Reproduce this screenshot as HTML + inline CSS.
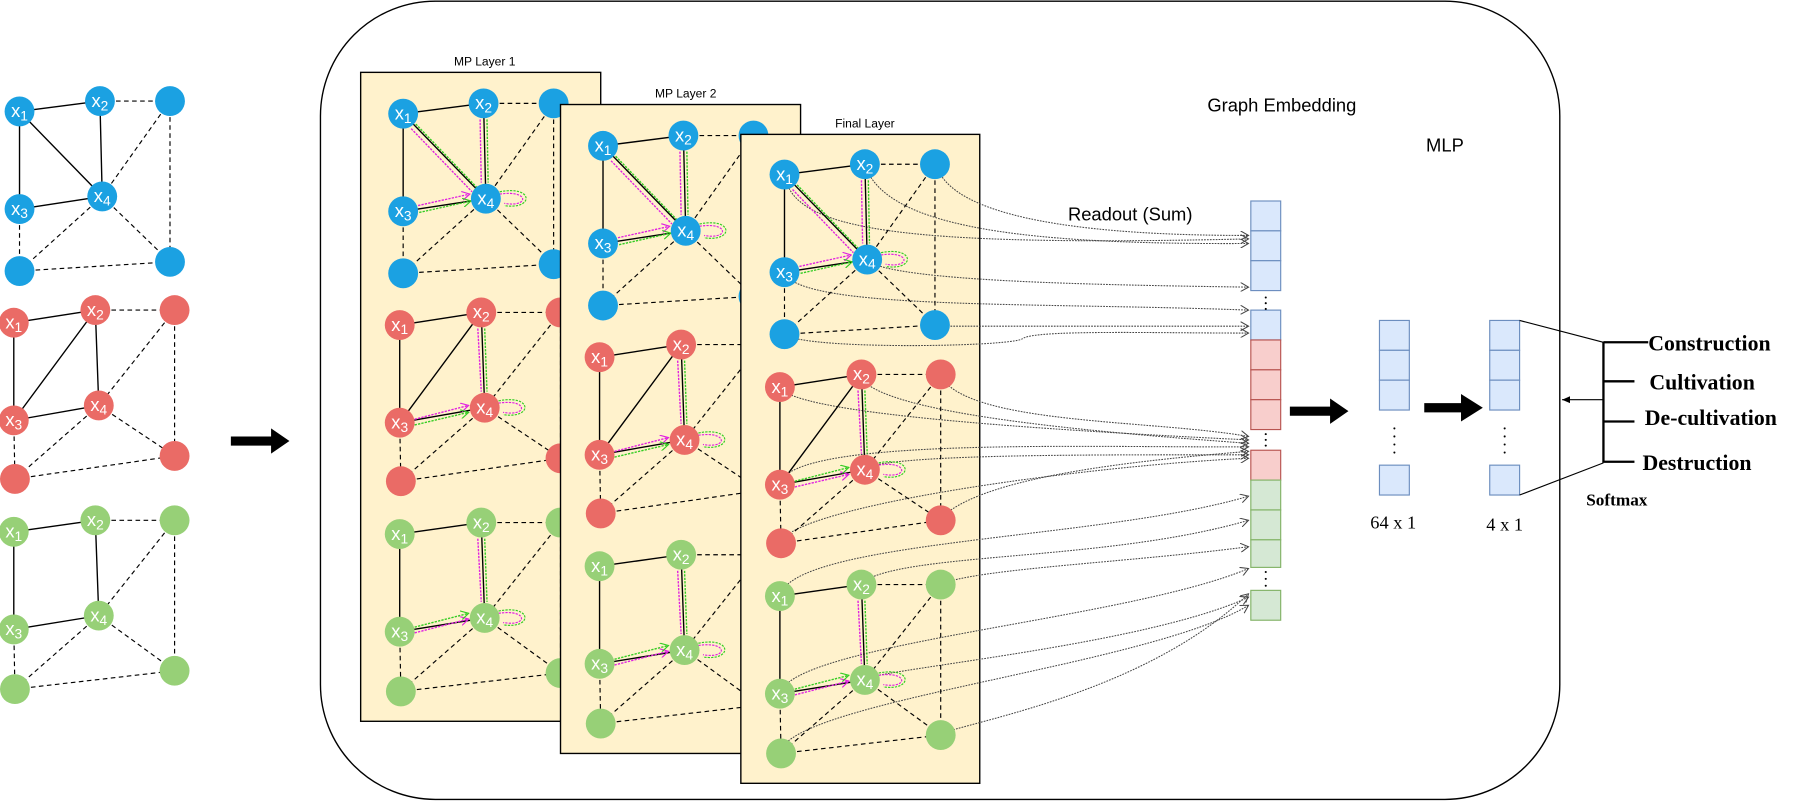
<!DOCTYPE html>
<html><head><meta charset="utf-8"><style>
html,body{margin:0;padding:0;background:#fff;}
svg{display:block;}
.nl{font-family:"Liberation Sans",sans-serif;font-size:16px;fill:#fff;text-anchor:middle;}
.s{stroke:#000;stroke-width:1.2;fill:none;}
.d{stroke:#000;stroke-width:1;stroke-dasharray:4 3;fill:none;}
.pk{stroke:#e020e0;stroke-width:1.2;stroke-dasharray:2 1;fill:none;marker-end:url(#mp);}
.gn{stroke:#33cc22;stroke-width:1.2;stroke-dasharray:2 1;fill:none;marker-end:url(#mg);}
.c{stroke:#444;stroke-width:0.9;stroke-dasharray:1.5 1;fill:none;marker-end:url(#ma);}
.lbl{font-family:"Liberation Sans",sans-serif;fill:#000;}
.sf{font-family:"Liberation Serif",serif;fill:#000;}
</style></head><body>
<svg width="1801" height="801" viewBox="0 0 1568 697.4" preserveAspectRatio="none" xmlns="http://www.w3.org/2000/svg">
<defs>
<marker id="ma" markerWidth="8" markerHeight="8" refX="7" refY="4" orient="auto" markerUnits="userSpaceOnUse"><path d="M0,0 L7,4 L0,8" fill="none" stroke="#444" stroke-width="0.9"/></marker>
<marker id="mp" markerWidth="8" markerHeight="8" refX="7" refY="4" orient="auto" markerUnits="userSpaceOnUse"><path d="M0,0 L7,4 L0,8" fill="none" stroke="#e020e0" stroke-width="1"/></marker>
<marker id="mg" markerWidth="8" markerHeight="8" refX="7" refY="4" orient="auto" markerUnits="userSpaceOnUse"><path d="M0,0 L7,4 L0,8" fill="none" stroke="#33cc22" stroke-width="1"/></marker>
<marker id="mk" markerWidth="8" markerHeight="8" refX="7" refY="4" orient="auto" markerUnits="userSpaceOnUse"><path d="M0,1 L7,4 L0,7 Z" fill="#000"/></marker>
</defs>

<!-- big rounded container -->
<rect x="279" y="1" width="1079" height="695" rx="100" ry="100" fill="#fff" stroke="#000" stroke-width="1.2"/>

<!-- left arrow -->
<polygon points="201,380 236,380 236,373 252,384 236,395 236,388 201,388" fill="#000"/>

<!-- ===== LEFT BLUE ===== -->
<g transform="translate(17,97)">
<path class="s" d="M0,0L70,-9M0,0L0,85M0,0L72,74M70,-9L72,74M0,85L72,74"/>
<path class="d" d="M70,-9L131,-9M131,-9L72,74M131,-9L131,131M0,85L0,139M72,74L0,139M72,74L131,131M0,139L131,131"/>
<g fill="#1ba1e2"><circle cx="0" cy="0" r="13"/><circle cx="70" cy="-9" r="13"/><circle cx="131" cy="-9" r="13"/><circle cx="0" cy="85" r="13"/><circle cx="72" cy="74" r="13"/><circle cx="0" cy="139" r="13"/><circle cx="131" cy="131" r="13"/></g>
<text class="nl" x="0" y="5">x<tspan font-size="12" dy="3">1</tspan></text><text class="nl" x="70" y="-4">x<tspan font-size="12" dy="3">2</tspan></text><text class="nl" x="0" y="90">x<tspan font-size="12" dy="3">3</tspan></text><text class="nl" x="72" y="79">x<tspan font-size="12" dy="3">4</tspan></text>
</g>
<!-- LEFT RED -->
<g transform="translate(12,281)">
<path class="s" d="M0,0L71,-11M0,0L0,85M0,85L71,-11M71,-11L74,72M0,85L74,72"/>
<path class="d" d="M71,-11L140,-11M140,-11L74,72M140,-11L140,116M0,85L1,136M74,72L1,136M74,72L140,116M1,136L140,116"/>
<g fill="#ea6b66"><circle cx="0" cy="0" r="13"/><circle cx="71" cy="-11" r="13"/><circle cx="140" cy="-11" r="13"/><circle cx="0" cy="85" r="13"/><circle cx="74" cy="72" r="13"/><circle cx="1" cy="136" r="13"/><circle cx="140" cy="116" r="13"/></g>
<text class="nl" x="0" y="5">x<tspan font-size="12" dy="3">1</tspan></text><text class="nl" x="71" y="-6">x<tspan font-size="12" dy="3">2</tspan></text><text class="nl" x="0" y="90">x<tspan font-size="12" dy="3">3</tspan></text><text class="nl" x="74" y="77">x<tspan font-size="12" dy="3">4</tspan></text>
</g>
<!-- LEFT GREEN -->
<g transform="translate(12,463)">
<path class="s" d="M0,0L71,-10M0,0L0,85M71,-10L74,73M0,85L74,73"/>
<path class="d" d="M71,-10L140,-10M140,-10L74,73M140,-10L140,121M0,85L1,137M74,73L1,137M74,73L140,121M1,137L140,121"/>
<g fill="#97d077"><circle cx="0" cy="0" r="13"/><circle cx="71" cy="-10" r="13"/><circle cx="140" cy="-10" r="13"/><circle cx="0" cy="85" r="13"/><circle cx="74" cy="73" r="13"/><circle cx="1" cy="137" r="13"/><circle cx="140" cy="121" r="13"/></g>
<text class="nl" x="0" y="5">x<tspan font-size="12" dy="3">1</tspan></text><text class="nl" x="71" y="-5">x<tspan font-size="12" dy="3">2</tspan></text><text class="nl" x="0" y="90">x<tspan font-size="12" dy="3">3</tspan></text><text class="nl" x="74" y="78">x<tspan font-size="12" dy="3">4</tspan></text>
</g>

<!-- ================= PANEL 1 ================= -->
<text class="lbl" x="422" y="57" font-size="10.5" text-anchor="middle">MP Layer 1</text>
<rect x="314" y="63" width="209" height="565" fill="#fff2cc" stroke="#000" stroke-width="1.2"/>
<g transform="translate(351,99)">
<path class="s" d="M0,0L70,-9M0,0L0,85M0,0L72,74M70,-9L72,74M0,85L72,74"/>
<path class="d" d="M70,-9L131,-9M131,-9L72,74M131,-9L131,131M0,85L0,139M72,74L0,139M72,74L131,131M0,139L131,131"/>
<path class="pk" d="M7,13L60,68M67,5L68,60M13,80L58,70"/><path class="gn" d="M11,9L64,64M73,5L74,60M14,86L59,76"/>
<path d="M84,70 C110,66 110,82 88,78" stroke="#e020e0" stroke-dasharray="2 1" fill="none"/><path d="M84,68 C114,62 114,84 88,80" stroke="#33cc22" stroke-dasharray="2 1" fill="none"/>
<g fill="#1ba1e2"><circle cx="0" cy="0" r="13"/><circle cx="70" cy="-9" r="13"/><circle cx="131" cy="-9" r="13"/><circle cx="0" cy="85" r="13"/><circle cx="72" cy="74" r="13"/><circle cx="0" cy="139" r="13"/><circle cx="131" cy="131" r="13"/></g>
<text class="nl" x="0" y="5">x<tspan font-size="12" dy="3">1</tspan></text><text class="nl" x="70" y="-4">x<tspan font-size="12" dy="3">2</tspan></text><text class="nl" x="0" y="90">x<tspan font-size="12" dy="3">3</tspan></text><text class="nl" x="72" y="79">x<tspan font-size="12" dy="3">4</tspan></text>
</g>
<g transform="translate(348,283)">
<path class="s" d="M0,0L71,-11M0,0L0,85M0,85L71,-11M71,-11L74,72M0,85L74,72"/>
<path class="d" d="M71,-11L140,-11M140,-11L74,72M140,-11L140,116M0,85L1,136M74,72L1,136M74,72L140,116M1,136L140,116"/>
<path class="pk" d="M68,3L71,58M13,82L60,70"/><path class="gn" d="M74,3L76,58M13,87L60,76"/>
<path d="M86,68 C112,64 112,80 90,76" stroke="#e020e0" stroke-dasharray="2 1" fill="none"/><path d="M86,66 C116,60 116,82 90,78" stroke="#33cc22" stroke-dasharray="2 1" fill="none"/>
<g fill="#ea6b66"><circle cx="0" cy="0" r="13"/><circle cx="71" cy="-11" r="13"/><circle cx="140" cy="-11" r="13"/><circle cx="0" cy="85" r="13"/><circle cx="74" cy="72" r="13"/><circle cx="1" cy="136" r="13"/><circle cx="140" cy="116" r="13"/></g>
<text class="nl" x="0" y="5">x<tspan font-size="12" dy="3">1</tspan></text><text class="nl" x="71" y="-6">x<tspan font-size="12" dy="3">2</tspan></text><text class="nl" x="0" y="90">x<tspan font-size="12" dy="3">3</tspan></text><text class="nl" x="74" y="77">x<tspan font-size="12" dy="3">4</tspan></text>
</g>
<g transform="translate(348,465)">
<path class="s" d="M0,0L71,-10M0,0L0,85M71,-10L74,73M0,85L74,73"/>
<path class="d" d="M71,-10L140,-10M140,-10L74,73M140,-10L140,121M0,85L1,137M74,73L1,137M74,73L140,121M1,137L140,121"/>
<path class="pk" d="M68,4L71,59M13,86L60,74"/><path class="gn" d="M74,4L76,59M13,81L60,69"/>
<path d="M86,69 C112,65 112,81 90,77" stroke="#e020e0" stroke-dasharray="2 1" fill="none"/><path d="M86,67 C116,61 116,83 90,79" stroke="#33cc22" stroke-dasharray="2 1" fill="none"/>
<g fill="#97d077"><circle cx="0" cy="0" r="13"/><circle cx="71" cy="-10" r="13"/><circle cx="140" cy="-10" r="13"/><circle cx="0" cy="85" r="13"/><circle cx="74" cy="73" r="13"/><circle cx="1" cy="137" r="13"/><circle cx="140" cy="121" r="13"/></g>
<text class="nl" x="0" y="5">x<tspan font-size="12" dy="3">1</tspan></text><text class="nl" x="71" y="-5">x<tspan font-size="12" dy="3">2</tspan></text><text class="nl" x="0" y="90">x<tspan font-size="12" dy="3">3</tspan></text><text class="nl" x="74" y="78">x<tspan font-size="12" dy="3">4</tspan></text>
</g>

<!-- ================= PANEL 2 ================= -->
<text class="lbl" x="597" y="85" font-size="10.5" text-anchor="middle">MP Layer 2</text>
<rect x="488" y="91" width="209" height="565" fill="#fff2cc" stroke="#000" stroke-width="1.2"/>
<g transform="translate(525,127)">
<path class="s" d="M0,0L70,-9M0,0L0,85M0,0L72,74M70,-9L72,74M0,85L72,74"/>
<path class="d" d="M70,-9L131,-9M131,-9L72,74M131,-9L131,131M0,85L0,139M72,74L0,139M72,74L131,131M0,139L131,131"/>
<path class="pk" d="M7,13L60,68M67,5L68,60M13,80L58,70"/><path class="gn" d="M11,9L64,64M73,5L74,60M14,86L59,76"/>
<path d="M84,70 C110,66 110,82 88,78" stroke="#e020e0" stroke-dasharray="2 1" fill="none"/><path d="M84,68 C114,62 114,84 88,80" stroke="#33cc22" stroke-dasharray="2 1" fill="none"/>
<g fill="#1ba1e2"><circle cx="0" cy="0" r="13"/><circle cx="70" cy="-9" r="13"/><circle cx="131" cy="-9" r="13"/><circle cx="0" cy="85" r="13"/><circle cx="72" cy="74" r="13"/><circle cx="0" cy="139" r="13"/><circle cx="131" cy="131" r="13"/></g>
<text class="nl" x="0" y="5">x<tspan font-size="12" dy="3">1</tspan></text><text class="nl" x="70" y="-4">x<tspan font-size="12" dy="3">2</tspan></text><text class="nl" x="0" y="90">x<tspan font-size="12" dy="3">3</tspan></text><text class="nl" x="72" y="79">x<tspan font-size="12" dy="3">4</tspan></text>
</g>
<g transform="translate(522,311)">
<path class="s" d="M0,0L71,-11M0,0L0,85M0,85L71,-11M71,-11L74,72M0,85L74,72"/>
<path class="d" d="M71,-11L140,-11M140,-11L74,72M140,-11L140,116M0,85L1,136M74,72L1,136M74,72L140,116M1,136L140,116"/>
<path class="pk" d="M68,3L71,58M13,82L60,70"/><path class="gn" d="M74,3L76,58M13,87L60,76"/>
<path d="M86,68 C112,64 112,80 90,76" stroke="#e020e0" stroke-dasharray="2 1" fill="none"/><path d="M86,66 C116,60 116,82 90,78" stroke="#33cc22" stroke-dasharray="2 1" fill="none"/>
<g fill="#ea6b66"><circle cx="0" cy="0" r="13"/><circle cx="71" cy="-11" r="13"/><circle cx="140" cy="-11" r="13"/><circle cx="0" cy="85" r="13"/><circle cx="74" cy="72" r="13"/><circle cx="1" cy="136" r="13"/><circle cx="140" cy="116" r="13"/></g>
<text class="nl" x="0" y="5">x<tspan font-size="12" dy="3">1</tspan></text><text class="nl" x="71" y="-6">x<tspan font-size="12" dy="3">2</tspan></text><text class="nl" x="0" y="90">x<tspan font-size="12" dy="3">3</tspan></text><text class="nl" x="74" y="77">x<tspan font-size="12" dy="3">4</tspan></text>
</g>
<g transform="translate(522,493)">
<path class="s" d="M0,0L71,-10M0,0L0,85M71,-10L74,73M0,85L74,73"/>
<path class="d" d="M71,-10L140,-10M140,-10L74,73M140,-10L140,121M0,85L1,137M74,73L1,137M74,73L140,121M1,137L140,121"/>
<path class="pk" d="M68,4L71,59M13,86L60,74"/><path class="gn" d="M74,4L76,59M13,81L60,69"/>
<path d="M86,69 C112,65 112,81 90,77" stroke="#e020e0" stroke-dasharray="2 1" fill="none"/><path d="M86,67 C116,61 116,83 90,79" stroke="#33cc22" stroke-dasharray="2 1" fill="none"/>
<g fill="#97d077"><circle cx="0" cy="0" r="13"/><circle cx="71" cy="-10" r="13"/><circle cx="140" cy="-10" r="13"/><circle cx="0" cy="85" r="13"/><circle cx="74" cy="73" r="13"/><circle cx="1" cy="137" r="13"/><circle cx="140" cy="121" r="13"/></g>
<text class="nl" x="0" y="5">x<tspan font-size="12" dy="3">1</tspan></text><text class="nl" x="71" y="-5">x<tspan font-size="12" dy="3">2</tspan></text><text class="nl" x="0" y="90">x<tspan font-size="12" dy="3">3</tspan></text><text class="nl" x="74" y="78">x<tspan font-size="12" dy="3">4</tspan></text>
</g>

<!-- ================= PANEL 3 ================= -->
<text class="lbl" x="753" y="111" font-size="10.5" text-anchor="middle">Final Layer</text>
<rect x="645" y="117" width="208" height="565" fill="#fff2cc" stroke="#000" stroke-width="1.2"/>

<!-- readout connectors -->
<g class="c">
<path d="M683,152 C690,200 780,215 1087,208"/>
<path d="M753,143 C770,200 900,213 1087,212"/>
<path d="M815,143 C830,200 1000,205 1087,205"/>
<path d="M683,238 C700,270 900,263 1087,270"/>
<path d="M755,227 C780,245 950,248 1087,250"/>
<path d="M815,284 L1087,284"/>
<path d="M683,291 C700,305 880,302 890,295 C900,287 1000,290 1087,290"/>
<path d="M818,326 C840,370 1000,365 1087,380"/>
<path d="M679,337 C690,360 900,374 1087,383"/>
<path d="M748,326 C760,360 950,376 1087,386"/>
<path d="M679,421 C690,380 950,390 1087,389"/>
<path d="M751,408 C780,395 950,396 1087,396"/>
<path d="M679,473 C690,440 950,405 1087,399"/>
<path d="M818,452 C850,420 950,404 1087,393"/>
<path d="M679,519 C690,470 960,470 1087,432"/>
<path d="M748,509 C780,480 960,490 1087,453"/>
<path d="M818,509 C850,495 980,490 1087,476"/>
<path d="M679,604 C690,560 980,540 1087,495"/>
<path d="M751,591 C790,580 1000,560 1087,520"/>
<path d="M679,655 C690,610 1000,580 1087,527"/>
<path d="M818,639 C860,625 1000,600 1087,517"/>
</g>

<g transform="translate(683,152)">
<path class="s" d="M0,0L70,-9M0,0L0,85M0,0L72,74M70,-9L72,74M0,85L72,74"/>
<path class="d" d="M70,-9L131,-9M131,-9L72,74M131,-9L131,131M0,85L0,139M72,74L0,139M72,74L131,131M0,139L131,131"/>
<path class="pk" d="M7,13L60,68M67,5L68,60M13,80L58,70"/><path class="gn" d="M11,9L64,64M73,5L74,60M14,86L59,76"/>
<path d="M84,70 C110,66 110,82 88,78" stroke="#e020e0" stroke-dasharray="2 1" fill="none"/><path d="M84,68 C114,62 114,84 88,80" stroke="#33cc22" stroke-dasharray="2 1" fill="none"/>
<g fill="#1ba1e2"><circle cx="0" cy="0" r="13"/><circle cx="70" cy="-9" r="13"/><circle cx="131" cy="-9" r="13"/><circle cx="0" cy="85" r="13"/><circle cx="72" cy="74" r="13"/><circle cx="0" cy="139" r="13"/><circle cx="131" cy="131" r="13"/></g>
<text class="nl" x="0" y="5">x<tspan font-size="12" dy="3">1</tspan></text><text class="nl" x="70" y="-4">x<tspan font-size="12" dy="3">2</tspan></text><text class="nl" x="0" y="90">x<tspan font-size="12" dy="3">3</tspan></text><text class="nl" x="72" y="79">x<tspan font-size="12" dy="3">4</tspan></text>
</g>
<g transform="translate(679,337)">
<path class="s" d="M0,0L71,-11M0,0L0,85M0,85L71,-11M71,-11L74,72M0,85L74,72"/>
<path class="d" d="M71,-11L140,-11M140,-11L74,72M140,-11L140,116M0,85L1,136M74,72L1,136M74,72L140,116M1,136L140,116"/>
<path class="pk" d="M68,3L71,58M13,87L60,76"/><path class="gn" d="M74,3L76,58M13,82L60,70"/>
<path d="M86,68 C112,64 112,80 90,76" stroke="#e020e0" stroke-dasharray="2 1" fill="none"/><path d="M86,66 C116,60 116,82 90,78" stroke="#33cc22" stroke-dasharray="2 1" fill="none"/>
<g fill="#ea6b66"><circle cx="0" cy="0" r="13"/><circle cx="71" cy="-11" r="13"/><circle cx="140" cy="-11" r="13"/><circle cx="0" cy="85" r="13"/><circle cx="74" cy="72" r="13"/><circle cx="1" cy="136" r="13"/><circle cx="140" cy="116" r="13"/></g>
<text class="nl" x="0" y="5">x<tspan font-size="12" dy="3">1</tspan></text><text class="nl" x="71" y="-6">x<tspan font-size="12" dy="3">2</tspan></text><text class="nl" x="0" y="90">x<tspan font-size="12" dy="3">3</tspan></text><text class="nl" x="74" y="77">x<tspan font-size="12" dy="3">4</tspan></text>
</g>
<g transform="translate(679,519)">
<path class="s" d="M0,0L71,-10M0,0L0,85M71,-10L74,73M0,85L74,73"/>
<path class="d" d="M71,-10L140,-10M140,-10L74,73M140,-10L140,121M0,85L1,137M74,73L1,137M74,73L140,121M1,137L140,121"/>
<path class="pk" d="M68,4L71,59M13,86L60,74"/><path class="gn" d="M74,4L76,59M13,81L60,69"/>
<path d="M86,69 C112,65 112,81 90,77" stroke="#e020e0" stroke-dasharray="2 1" fill="none"/><path d="M86,67 C116,61 116,83 90,79" stroke="#33cc22" stroke-dasharray="2 1" fill="none"/>
<g fill="#97d077"><circle cx="0" cy="0" r="13"/><circle cx="71" cy="-10" r="13"/><circle cx="140" cy="-10" r="13"/><circle cx="0" cy="85" r="13"/><circle cx="74" cy="73" r="13"/><circle cx="1" cy="137" r="13"/><circle cx="140" cy="121" r="13"/></g>
<text class="nl" x="0" y="5">x<tspan font-size="12" dy="3">1</tspan></text><text class="nl" x="71" y="-5">x<tspan font-size="12" dy="3">2</tspan></text><text class="nl" x="0" y="90">x<tspan font-size="12" dy="3">3</tspan></text><text class="nl" x="74" y="78">x<tspan font-size="12" dy="3">4</tspan></text>
</g>

<!-- labels -->
<text class="lbl" x="1116" y="97" font-size="16" text-anchor="middle">Graph Embedding</text>
<text class="lbl" x="1258" y="132" font-size="16" text-anchor="middle">MLP</text>
<text class="lbl" x="984" y="192" font-size="16" text-anchor="middle">Readout (Sum)</text>

<!-- embedding column -->
<g stroke-width="1">
<g fill="#dae8fc" stroke="#6c8ebf"><rect x="1089" y="175" width="26" height="26"/><rect x="1089" y="201" width="26" height="26"/><rect x="1089" y="227" width="26" height="26"/><rect x="1089" y="270" width="26" height="26"/></g>
<g fill="#f8cecc" stroke="#b85450"><rect x="1089" y="296" width="26" height="26"/><rect x="1089" y="322" width="26" height="26"/><rect x="1089" y="348" width="26" height="26"/><rect x="1089" y="392" width="26" height="26"/></g>
<g fill="#d5e8d4" stroke="#82b366"><rect x="1089" y="418" width="26" height="26"/><rect x="1089" y="444" width="26" height="26"/><rect x="1089" y="470" width="26" height="24"/><rect x="1089" y="514" width="26" height="26"/></g>
</g>
<g fill="#000"><circle cx="1102" cy="259" r="0.9"/><circle cx="1102" cy="264" r="0.9"/><circle cx="1102" cy="269" r="0.9"/><circle cx="1102" cy="378" r="0.9"/><circle cx="1102" cy="383" r="0.9"/><circle cx="1102" cy="388" r="0.9"/><circle cx="1102" cy="498" r="0.9"/><circle cx="1102" cy="504" r="0.9"/><circle cx="1102" cy="510" r="0.9"/></g>

<!-- thick arrows -->
<polygon points="1123,354 1158,354 1158,347 1174,358 1158,369 1158,362 1123,362" fill="#000"/>
<polygon points="1240,351 1272,351 1272,343 1291,355 1272,367 1272,359 1240,359" fill="#000"/>

<!-- MLP columns -->
<g fill="#dae8fc" stroke="#6c8ebf" stroke-width="1">
<rect x="1201" y="279" width="26" height="26"/><rect x="1201" y="305" width="26" height="26"/><rect x="1201" y="331" width="26" height="26"/><rect x="1201" y="405" width="26" height="26"/>
<rect x="1297" y="279" width="26" height="26"/><rect x="1297" y="305" width="26" height="26"/><rect x="1297" y="331" width="26" height="26"/><rect x="1297" y="405" width="26" height="26"/>
</g>
<g fill="#000"><circle cx="1214" cy="373" r="0.9"/><circle cx="1214" cy="380" r="0.9"/><circle cx="1214" cy="387" r="0.9"/><circle cx="1214" cy="394" r="0.9"/><circle cx="1310" cy="373" r="0.9"/><circle cx="1310" cy="380" r="0.9"/><circle cx="1310" cy="387" r="0.9"/><circle cx="1310" cy="394" r="0.9"/></g>
<text class="sf" x="1213" y="460" font-size="16" text-anchor="middle">64 x 1</text>
<text class="sf" x="1310" y="462" font-size="16" text-anchor="middle">4 x 1</text>

<!-- softmax bracket -->
<path d="M1323,279 L1396,298 M1323,431 L1396,403" stroke="#000" stroke-width="1" fill="none"/>
<path d="M1396,298 L1396,403 M1396,298 L1435,298 M1396,332 L1423,332 M1396,367 L1423,367 M1396,402 L1423,402" stroke="#000" stroke-width="2" fill="none"/>
<path d="M1396,348 L1360,348" stroke="#000" stroke-width="1" marker-end="url(#mk)"/>
<g class="sf" font-weight="bold" font-size="19">
<text x="1435" y="305">Construction</text>
<text x="1436" y="339">Cultivation</text>
<text x="1432" y="370">De-cultivation</text>
<text x="1430" y="409">Destruction</text>
</g>
<text class="sf" x="1381" y="440" font-size="15" font-weight="bold">Softmax</text>
</svg>
</body></html>
